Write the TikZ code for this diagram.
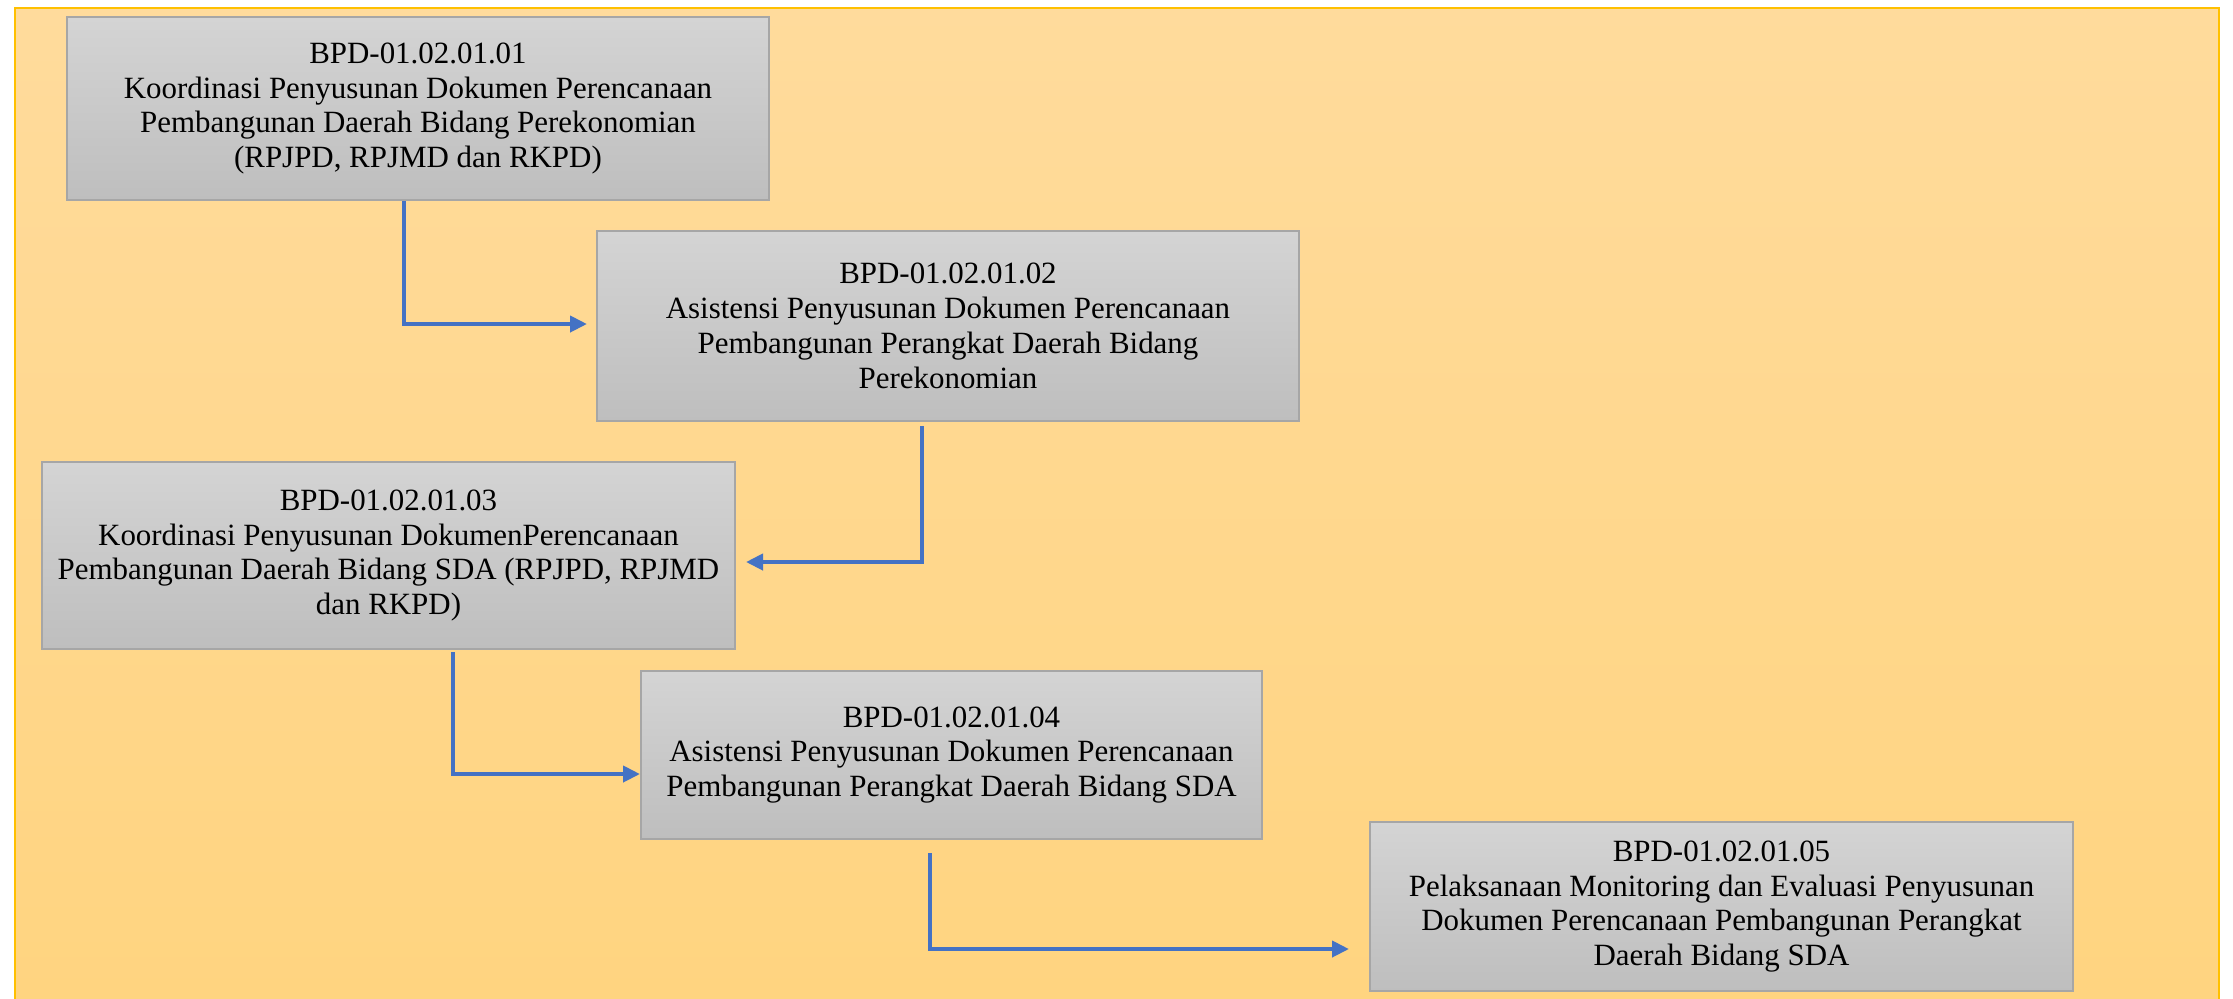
\documentclass[tikz,border=0pt]{standalone}
\usepackage{fontspec}
\setmainfont{Liberation Serif}
\usepackage{xcolor}
\definecolor{panelgold}{HTML}{FFC000}
\definecolor{paneltop}{HTML}{FFDB9C}
\definecolor{panelbottom}{HTML}{FFD47F}
\definecolor{boxtop}{HTML}{D4D4D4}
\definecolor{boxbottom}{HTML}{BEBEBE}
\definecolor{boxedge}{HTML}{A6A6A6}
\definecolor{flowblue}{HTML}{4472C4}
\usepackage{tikz}
\usetikzlibrary{arrows.meta}
\tikzset{>={Triangle[length=1.7mm,width=1.6mm]}}
\tikzset{
  task/.style={draw=boxedge, line width=0.02cm, top color=boxtop, bottom color=boxbottom,
    align=center, inner sep=0pt, font=\fontsize{8.8}{9.9}\selectfont},
  flow/.style={flowblue, line width=0.04cm, ->},
}

\begin{document}
\begin{tikzpicture}

  % panel
  \clip (0,0) rectangle (22.33,-9.98);
  \path[draw=panelgold, line width=0.02cm, top color=paneltop, bottom color=panelbottom]
    (0.15,-0.08) rectangle (22.19,-10.3);

  % activities
  \node[task, minimum width=7.02cm, minimum height=1.83cm] (k1) at (4.18,-1.085)
    {BPD-01.02.01.01\\Koordinasi Penyusunan Dokumen Perencanaan\\Pembangunan Daerah Bidang Perekonomian\\(RPJPD, RPJMD dan RKPD)};
  \node[task, minimum width=7.02cm, minimum height=1.90cm] (k2) at (9.48,-3.26)
    {BPD-01.02.01.02\\Asistensi Penyusunan Dokumen Perencanaan\\Pembangunan Perangkat Daerah Bidang\\Perekonomian};
  \node[task, minimum width=6.93cm, minimum height=1.87cm] (k3) at (3.885,-5.555)
    {BPD-01.02.01.03\\Koordinasi Penyusunan DokumenPerencanaan\\Pembangunan Daerah Bidang SDA (RPJPD, RPJMD\\dan RKPD)};
  \node[task, minimum width=6.21cm, minimum height=1.68cm] (k4) at (9.515,-7.55)
    {BPD-01.02.01.04\\Asistensi Penyusunan Dokumen Perencanaan\\Pembangunan Perangkat Daerah Bidang SDA};
  \node[task, minimum width=7.03cm, minimum height=1.69cm] (k5) at (17.215,-9.065)
    {BPD-01.02.01.05\\Pelaksanaan Monitoring dan Evaluasi Penyusunan\\Dokumen Perencanaan Pembangunan Perangkat\\Daerah Bidang SDA};

  % elbow connectors
  \draw[flow, shorten >=0.9mm] ([xshift=-1.4mm]k1.south) |- ([yshift=0.2mm]k2.west);
  \draw[flow, shorten >=1mm] ([xshift=-2.6mm,yshift=-0.4mm]k2.south) |- ([yshift=-0.65mm]k3.east);
  \draw[flow] ([xshift=6.45mm,yshift=-0.2mm]k3.south) |- ([yshift=-1.9mm]k4.west);
  \draw[flow, shorten >=2mm] ([xshift=-2.15mm,yshift=-1.3mm]k4.south) |- ([yshift=-4.25mm]k5.west);

\end{tikzpicture}
\end{document}
